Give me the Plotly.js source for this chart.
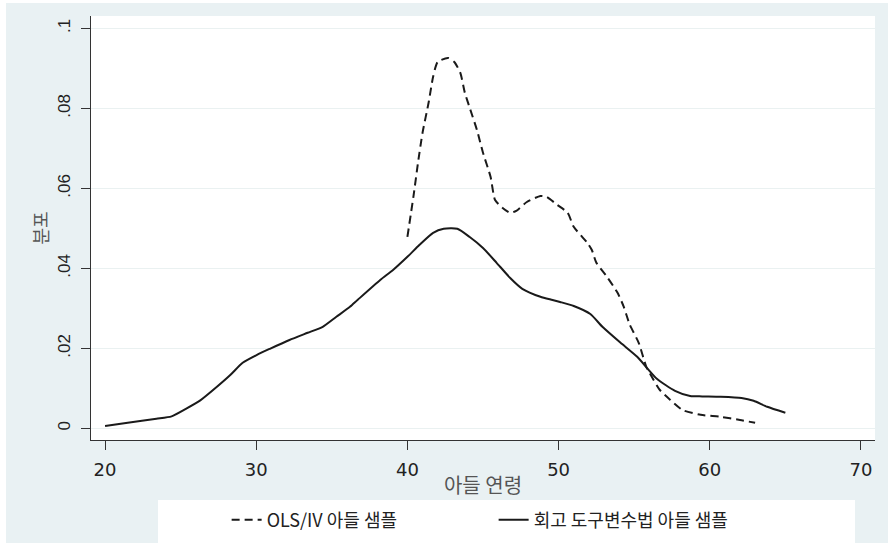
<!DOCTYPE html>
<html>
<head>
<meta charset="utf-8">
<script src="https://cdn.plot.ly/plotly-3.0.1.min.js"></script>
<style>
  html, body { margin: 0; padding: 0; background: #ffffff; }
  #chart { position: absolute; left: 6px; top: 3px; width: 882px; height: 540px; }
</style>
</head>
<body>
<div id="chart"></div>
<script>
// Retrospective IV son sample (solid)
const ivAge = [20.0, 21.5, 23.4, 24.4, 25.4, 26.3, 27.4, 28.3, 29.1, 30.05, 30.9, 32.2, 33.4, 34.4, 35.3, 36.2, 36.7, 38.2, 39.05, 40.0, 40.8, 41.7, 42.4, 43.3, 44.1, 45.0, 45.9, 46.8, 47.6, 48.8, 49.6, 50.1, 51.0, 52.1, 52.9, 54.1, 55.2, 56.5, 57.7, 58.7, 59.5, 60.7, 62.1, 62.9, 63.8, 65.0];
const ivDens = [0.0006, 0.0014, 0.0024, 0.0030, 0.0050, 0.0070, 0.0104, 0.0134, 0.0164, 0.0184, 0.0199, 0.0221, 0.0239, 0.0254, 0.0279, 0.0304, 0.0321, 0.0371, 0.0396, 0.0429, 0.0459, 0.0489, 0.0499, 0.0499, 0.0479, 0.0451, 0.0414, 0.0376, 0.0349, 0.0329, 0.0321, 0.0316, 0.0306, 0.0286, 0.0254, 0.0214, 0.0179, 0.0124, 0.0094, 0.0081, 0.0080, 0.0079, 0.0076, 0.0069, 0.0054, 0.0039];

// OLS/IV son sample (dashed)
const olsAge = [40.0, 40.4, 40.7, 41.0, 41.4, 41.7, 42.0, 42.7, 43.1, 43.5, 43.8, 44.1, 44.6, 45.0, 45.5, 45.8, 46.3, 46.8, 47.2, 47.9, 48.8, 49.2, 49.9, 50.6, 51.0, 51.9, 52.2, 52.5, 53.2, 53.9, 54.3, 54.7, 55.3, 55.8, 56.0, 56.7, 57.4, 58.2, 59.4, 60.7, 62.0, 63.0];
const olsDens = [0.0479, 0.0580, 0.0664, 0.0739, 0.0814, 0.0879, 0.0916, 0.0926, 0.0916, 0.0889, 0.0839, 0.0804, 0.0746, 0.0689, 0.0629, 0.0571, 0.0551, 0.0539, 0.0544, 0.0566, 0.0581, 0.0579, 0.0559, 0.0539, 0.0504, 0.0464, 0.0446, 0.0414, 0.0379, 0.0339, 0.0305, 0.0260, 0.0214, 0.0154, 0.0140, 0.0096, 0.0071, 0.0046, 0.0034, 0.0029, 0.0021, 0.0014];

const xTicks = [20, 30, 40, 50, 60, 70];
const yTicks = [0, 0.02, 0.04, 0.06, 0.08, 0.1];
const yTickText = ["0", ".02", ".04", ".06", ".08", ".1"];

const seriesNames = ["OLS/IV 아들 샘플", "회고 도구변수법 아들 샘플"];
const xTitle = "아들 연령";
const yTitle = "분포";

const kr = '"Noto Sans CJK KR", "Noto Sans", sans-serif';

const traces = [
  {
    x: olsAge, y: olsDens, type: 'scatter', mode: 'lines', name: seriesNames[0],
    line: { color: '#1a1a1a', width: 2, dash: '8px,5px', shape: 'spline', smoothing: 0.6 }
  },
  {
    x: ivAge, y: ivDens, type: 'scatter', mode: 'lines', name: seriesNames[1],
    line: { color: '#1a1a1a', width: 2, shape: 'spline', smoothing: 0.6 }
  }
];

const layout = {
  width: 882, height: 540,
  paper_bgcolor: '#e9f1f3',
  plot_bgcolor: '#ffffff',
  margin: { l: 85, r: 13, t: 13, b: 103, autoexpand: false },
  showlegend: true,
  legend: {
    orientation: 'h',
    x: 0.173, xanchor: 'left',
    y: -0.189, yanchor: 'middle',
    bgcolor: 'rgba(0,0,0,0)',
    entrywidth: 222, entrywidthmode: 'pixels',
    font: { family: kr, size: 18, color: '#222222' },
    traceorder: 'normal'
  },
  xaxis: {
    range: [19.07, 70.93],
    tickvals: xTicks,
    ticks: 'outside', ticklen: 9, tickwidth: 1, tickcolor: '#333333',
    showline: true, linecolor: '#333333', linewidth: 1,
    showgrid: false, zeroline: false,
    ticklabelstandoff: 4,
    tickfont: { family: '"DejaVu Sans", sans-serif', size: 18, color: '#222222' },
    title: { text: xTitle, font: { family: kr, size: 20, color: '#555555' }, standoff: 0 },
    automargin: false
  },
  yaxis: {
    range: [-0.0029, 0.1031],
    tickvals: yTicks, ticktext: yTickText,
    tickangle: -90,
    ticks: 'outside', ticklen: 9, tickwidth: 1, tickcolor: '#333333',
    showline: true, linecolor: '#333333', linewidth: 1,
    showgrid: true, gridcolor: '#eaf1f1', gridwidth: 1,
    zeroline: false,
    ticklabelstandoff: 4,
    tickfont: { family: '"Liberation Sans", Arial, sans-serif', size: 17, color: '#222222' },
    title: { text: yTitle, font: { family: kr, size: 18, color: '#555555' }, standoff: 1 },
    automargin: false
  },
  shapes: [
    {
      type: 'rect', xref: 'paper', yref: 'paper', layer: 'below',
      x0: 0.0855, x1: 0.9745, y0: -0.25, y1: -0.1415,
      fillcolor: '#ffffff', line: { width: 0 }
    }
  ]
};

Plotly.newPlot('chart', traces, layout, { displayModeBar: false, staticPlot: true });
</script>
</body>
</html>
